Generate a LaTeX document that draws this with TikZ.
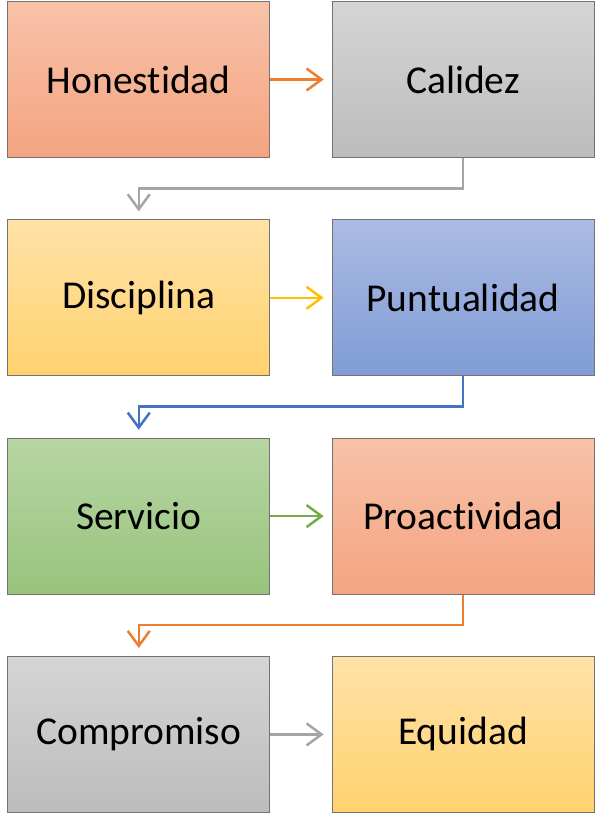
\documentclass[tikz,border=0pt]{standalone}
\usepackage{fontspec}
\setmainfont{Carlito}[Ligatures=NoCommon]
\usetikzlibrary{positioning}
\usetikzlibrary{arrows.meta}
\definecolor{oraT}{HTML}{F8C2A8}
\definecolor{oraB}{HTML}{F4A481}
\definecolor{graT}{HTML}{D5D5D5}
\definecolor{graB}{HTML}{BCBCBC}
\definecolor{yelT}{HTML}{FFE2A8}
\definecolor{yelB}{HTML}{FFD26E}
\definecolor{bluT}{HTML}{ABBBE3}
\definecolor{bluB}{HTML}{809CD6}
\definecolor{greT}{HTML}{B6D5A3}
\definecolor{greB}{HTML}{99C47D}
\definecolor{oraL}{HTML}{ED7D31}
\definecolor{graL}{HTML}{A5A5A5}
\definecolor{yelL}{HTML}{FFC000}
\definecolor{bluL}{HTML}{4472C4}
\definecolor{greL}{HTML}{70AD47}
\tikzset{
  valor/.style={draw=black!55, line width=0.8pt, minimum width=262pt, minimum height=156pt,
    inner sep=0pt, font=\fontsize{39.5}{47}\selectfont},
  ora/.style={valor, top color=oraT, bottom color=oraB},
  gra/.style={valor, top color=graT, bottom color=graB},
  yel/.style={valor, top color=yelT, bottom color=yelB},
  blu/.style={valor, top color=bluT, bottom color=bluB},
  gre/.style={valor, top color=greT, bottom color=greB},
  flecha/.style={line width=2.5pt, -{Straight Barb[length=15pt,width=22pt,line width=2.5pt]}, shorten >=8pt},
}
\begin{document}
\begin{tikzpicture}[x=1pt,y=1pt]
\useasboundingbox (0,0) rectangle (598,-813);
\def\gap{61.5pt};
\node[ora] (hon) at (138.75,-79.5) {Honestidad};
\node[gra, right=\gap of hon] (cal) {Calidez};
\node[yel, below=\gap of hon] (dis) {Disciplina};
\node[blu, right=\gap of dis] (pun) {Puntualidad};
\node[gre, below=\gap of dis] (ser) {Servicio};
\node[ora, right=\gap of ser] (pro) {Proactividad};
\node[gra, below=\gap of ser] (com) {Compromiso};
\node[yel, right=\gap of com] (equ) {Equidad};
\draw[flecha, oraL] (hon) -- (cal);
\draw[flecha, graL] (cal.south) -- ++(0,-30.5) -| (dis.north);
\draw[flecha, yelL] (dis) -- (pun);
\draw[flecha, bluL] (pun.south) -- ++(0,-30.5) -| (ser.north);
\draw[flecha, greL] (ser) -- (pro);
\draw[flecha, oraL] (pro.south) -- ++(0,-30.5) -| (com.north);
\draw[flecha, graL] (com) -- (equ);
\end{tikzpicture}
\end{document}
